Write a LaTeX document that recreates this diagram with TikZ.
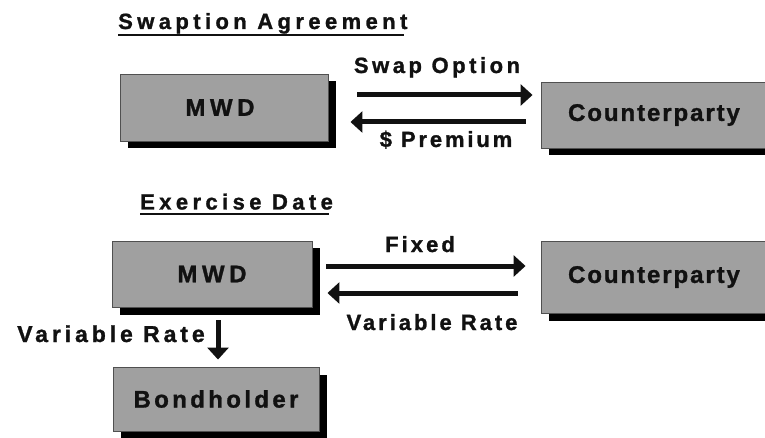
\documentclass[tikz,border=0pt]{standalone}
\usepackage{fontspec}
\setmainfont{Liberation Sans}[FakeBold=1.2]
\usetikzlibrary{arrows.meta,shadows}
\definecolor{boxfill}{HTML}{A0A0A0}
\definecolor{ink}{HTML}{111111}
\definecolor{edge}{HTML}{505050}
\newcommand{\lsp}[1]{\addfontfeature{LetterSpace=#1}}
\begin{document}
\begin{tikzpicture}[x=1pt,y=-1pt,
  box/.style={draw=edge, line width=0.9pt, fill=boxfill, inner sep=0pt, text=ink,
    font=\fontsize{24}{28}\selectfont\bfseries,
    drop shadow={shadow xshift=7.5pt, shadow yshift=-7.5pt, fill=black, opacity=1}},
  lab/.style={inner sep=0pt, text=ink, anchor=base, font=\fontsize{22}{26}\selectfont\bfseries},
  ttl/.style={inner sep=0pt, text=ink, anchor=base west, font=\fontsize{22}{26}\selectfont\bfseries\lsp{20}},
  uline/.style={draw=ink, line width=2.6pt},
  arr/.style={draw=ink, line width=5pt, -{Triangle[length=12pt,width=21pt]}}]
\useasboundingbox (0,0) rectangle (765,438);

% titles
\node[ttl] (t1) at (118,29) {Swaption Agreement};
\draw[uline] ([yshift=-6pt]t1.base west) -- ([yshift=-6pt,xshift=-4pt]t1.base east);
\node[ttl] (t2) at (140,209.5) {Exercise Date};
\draw[uline] ([yshift=-4.5pt]t2.base west) -- ([yshift=-4.5pt,xshift=-4pt]t2.base east);

% boxes
\node[box, minimum width=208pt, minimum height=67pt] (mwd1) at (224,107.5) {\lsp{19}MWD\hspace*{8pt}};
\node[box, minimum width=226pt, minimum height=66pt] (cp1) at (654,115) {\lsp{8}Counterparty};
\node[box, minimum width=200pt, minimum height=66pt] (mwd2) at (212,274) {\lsp{19}MWD};
\node[box, minimum width=226pt, minimum height=72pt] (cp2) at (654,277) {\lsp{8}Counterparty};
\node[box, minimum width=206pt, minimum height=64pt] (bond) at (216,399) {\lsp{14}Bondholder};

% helper coordinates
\coordinate (ya) at (0,95);
\coordinate (yb) at (0,122);
\coordinate (yc) at (0,266);
\coordinate (yd) at (0,293);
\coordinate (xv) at (218,0);

% connectors
\draw[arr, shorten <=29pt, shorten >=8pt] (mwd1.east |- ya) -- (cp1.west |- ya);
\draw[arr, shorten <=15pt, shorten >=22pt] (cp1.west |- yb) -- (mwd1.east |- yb);
\draw[arr, shorten <=14pt, shorten >=15pt] (mwd2.east |- yc) -- (cp2.west |- yc);
\draw[arr, shorten <=23pt, shorten >=15pt] (cp2.west |- yd) -- (mwd2.east |- yd);
\draw[arr, shorten <=13pt, shorten >=7pt] (mwd2.south -| xv) -- (bond.north -| xv);

% labels
\node[lab] (l1) at (437,73) {\lsp{16}Swap Option};
\node[lab] (l2) at (446,147) {\lsp{13}\$ Premium};
\node[lab] (l3) at (420,252) {\lsp{14}Fixed};
\node[lab] (l4) at (432,330) {\lsp{13.5}Variable Rate};
\node[lab, font=\fontsize{23}{27}\selectfont\bfseries] (l5) at (111,342) {\lsp{17}Variable Rate};
\end{tikzpicture}
\end{document}
